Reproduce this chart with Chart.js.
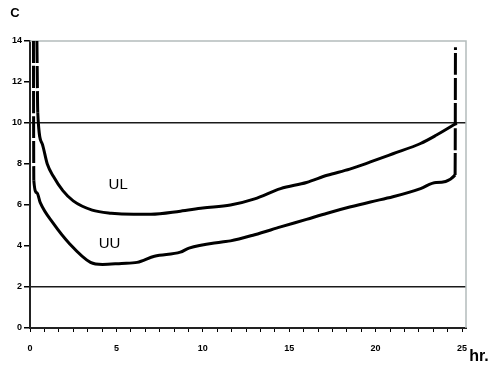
<!DOCTYPE html>
<html>
<head>
<meta charset="utf-8">
<script src="https://cdn.jsdelivr.net/npm/chart.js@4"></script>
<style>
    html, body { margin: 0; padding: 0; background: #fff; }
    #wrap { width: 491px; height: 367px; position: relative; }
</style>
</head>
<body>
<div id="wrap"><canvas id="chart"></canvas></div>
<script>
// curve UL (upper)
const ulX = [0.4, 0.45, 0.7, 1.0, 1.35, 1.9, 2.5, 3.6, 4.7, 6, 7, 8.7, 10, 11.6, 13, 14.5, 16, 17.2, 18.5, 19.7, 21, 22.6, 23.5, 24.5, 24.7];
const ulY = [14, 10.5, 9, 8, 7.4, 6.7, 6.2, 5.75, 5.6, 5.55, 5.55, 5.7, 5.85, 6.0, 6.3, 6.8, 7.1, 7.45, 7.75, 8.1, 8.5, 9.0, 9.4, 9.9, 10.0];
// curve UU (lower)
const uuX = [0.2, 0.22, 0.4, 0.6, 1.35, 2.3, 3.5, 4.2, 5.3, 6.2, 7.2, 8.7, 9.2, 11.1, 11.6, 13, 14.5, 16, 17.2, 18.5, 19.7, 21, 22.6, 23.5, 24.6, 24.62];
const uuY = [14, 7.2, 6.6, 6.1, 5.1, 4.1, 3.2, 3.1, 3.15, 3.2, 3.5, 3.7, 3.9, 4.2, 4.25, 4.55, 4.93, 5.3, 5.6, 5.9, 6.15, 6.4, 6.8, 7.1, 7.46, 13.7];
const xLabels = [0, 5, 10, 15, 20, 25];
const refLines = [2, 10];
const curveLabels = [["UL", 5.1, 7.0], ["UU", 4.6, 4.1]];

const pts = (xs, ys) => xs.map((x, i) => ({x: x, y: ys[i]}));

const dashSteep = ctx => {
    const dx = Math.abs(ctx.p1.parsed.x - ctx.p0.parsed.x);
    const dy = Math.abs(ctx.p1.parsed.y - ctx.p0.parsed.y);
    return (dx < 0.1 && dy > 1) ? [22, 3] : undefined;
};

const frame = {
    id: 'frame',
    beforeDatasetsDraw(chart) {
        const {ctx, chartArea: a} = chart;
        ctx.save();
        ctx.strokeStyle = '#b4bcbc';
        ctx.lineWidth = 1.5;
        ctx.beginPath();
        ctx.moveTo(a.left, a.top);
        ctx.lineTo(a.right, a.top);
        ctx.lineTo(a.right, a.bottom);
        ctx.stroke();
        ctx.restore();
    },
    afterDraw(chart) {
        const {ctx, scales: {x, y}} = chart;
        ctx.save();
        ctx.fillStyle = '#000';
        ctx.textAlign = 'center';
        ctx.textBaseline = 'middle';
        ctx.font = '15px "Liberation Sans", Arial, sans-serif';
        curveLabels.forEach(l => ctx.fillText(l[0], x.getPixelForValue(l[1]), y.getPixelForValue(l[2])));
        ctx.font = 'bold 13px "Liberation Sans", Arial, sans-serif';
        ctx.fillText('C', 15, 13);
        ctx.font = 'bold 16px "Liberation Sans", Arial, sans-serif';
        ctx.fillText('hr.', 479, 357);
        ctx.restore();
    }
};

new Chart(document.getElementById('chart'), {
    type: 'line',
    data: {
        datasets: [
            {label: 'UL', data: pts(ulX, ulY), borderColor: '#000', borderWidth: 3, pointRadius: 0,
             cubicInterpolationMode: 'monotone', segment: {borderDash: dashSteep}},
            {label: 'UU', data: pts(uuX, uuY), borderColor: '#000', borderWidth: 3, pointRadius: 0,
             cubicInterpolationMode: 'monotone', segment: {borderDash: dashSteep}}
        ]
    },
    options: {
        responsive: true,
        maintainAspectRatio: false,
        animation: false,
        layout: {padding: {top: 41, right: 25, left: 0, bottom: 0}},
        plugins: {legend: {display: false}, tooltip: {enabled: false}},
        scales: {
            x: {
                type: 'linear',
                min: 0,
                max: 25.23,
                // six minor ticks between labelled values
                afterBuildTicks: s => {
                    const t = [];
                    for (let i = 0; i <= 30; i++) t.push({value: i * 5 / 6});
                    s.ticks = t;
                },
                afterFit: s => { s.height = 39; },
                ticks: {
                    autoSkip: false,
                    maxRotation: 0,
                    padding: 11,
                    color: '#000',
                    font: {size: 9, weight: 'bold', family: '"Liberation Sans", Arial'},
                    callback: v => {
                        const r = Math.round(v / 5) * 5;
                        return (Math.abs(v - r) < 0.01 && xLabels.includes(r)) ? String(r) : '';
                    }
                },
                grid: {drawOnChartArea: false, tickLength: 4, tickColor: '#000', color: '#000'},
                border: {color: '#222', width: 2}
            },
            y: {
                min: 0,
                max: 14,
                afterFit: s => { s.width = 30; },
                ticks: {
                    stepSize: 2,
                    padding: 2,
                    color: '#000',
                    font: {size: 9, weight: 'bold', family: '"Liberation Sans", Arial'}
                },
                grid: {
                    tickLength: 6,
                    tickColor: '#000',
                    lineWidth: 1.5,
                    color: c => refLines.includes(c.tick.value) ? '#1a1a1a' : 'rgba(0,0,0,0)'
                },
                border: {color: '#222', width: 2}
            }
        }
    },
    plugins: [frame]
});
</script>
</body>
</html>
